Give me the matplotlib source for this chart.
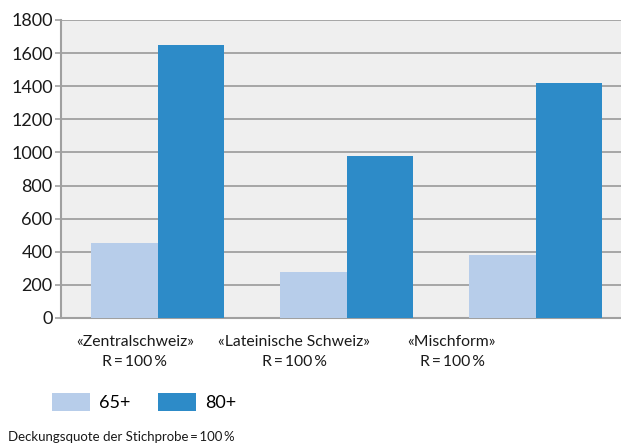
import matplotlib
matplotlib.use("Agg")
from matplotlib import pyplot as plt
import numpy as np

plt.rcParams['font.family'] = ['Lato', 'DejaVu Sans']

regions = ["«Zentralschweiz»\nR\u2009=\u2009100\u2009%", "«Lateinische Schweiz»\nR\u2009=\u2009100\u2009%",
           "«Mischform»\nR\u2009=\u2009100\u2009%"]
values_65 = [453, 278, 380]
values_80 = [1649, 978, 1419]
series_names = ["65+", "80+"]
footnote = "Deckungsquote der Stichprobe\u2009=\u2009100\u2009%"

light = "#b7cdea"
dark = "#2d8bc8"
grey = "#a0a0a0"

fig = plt.figure(figsize=(6.21, 4.45), dpi=100)
ax = fig.add_axes([61 / 621, 127 / 445, 560 / 621, 298 / 445])
ax.set_facecolor("#efefef")

x = np.arange(len(regions))
w = 0.352
ax.bar(x - w / 2, values_65, w, color=light, label=series_names[0], zorder=3)
ax.bar(x + w / 2, values_80, w, color=dark, label=series_names[1], zorder=3)

ax.set_xlim(-0.513, 2.45)
ax.set_ylim(0, 1800)
ax.set_yticks(range(0, 1801, 200))
ax.yaxis.grid(True, color=grey, linewidth=1.3, zorder=1)
ax.set_axisbelow(True)
for s in ["top", "right"]:
    ax.spines[s].set_visible(False)
ax.spines["left"].set_color(grey)
ax.spines["left"].set_linewidth(1.5)
ax.spines["bottom"].set_color(grey)
ax.spines["bottom"].set_linewidth(1.5)
ax.tick_params(axis="y", length=4, width=1.2, color=grey, pad=2, labelsize=13, labelcolor="#1a1a1a")
ax.set_xticks([])

# category labels sit left of the bar groups, evenly spaced
label_x = [135, 294, 452]
for lx, txt in zip(label_x, regions):
    fig.text(lx / 621, 1 - 352 / 445, txt, ha="center", va="center", fontsize=11.3,
             color="#1a1a1a", linespacing=1.5)

fig.legend(loc="center left", bbox_to_anchor=(52 / 621, 1 - 402 / 445), ncol=2, frameon=False,
           fontsize=13, handlelength=2.1, handleheight=1.2, handletextpad=0.5,
           columnspacing=1.55, borderpad=0, borderaxespad=0)

fig.text(8 / 621, 1 - 437 / 445, footnote, ha="left", va="center", fontsize=9.5, color="#1a1a1a")

fig.savefig("out.png", dpi=100)
